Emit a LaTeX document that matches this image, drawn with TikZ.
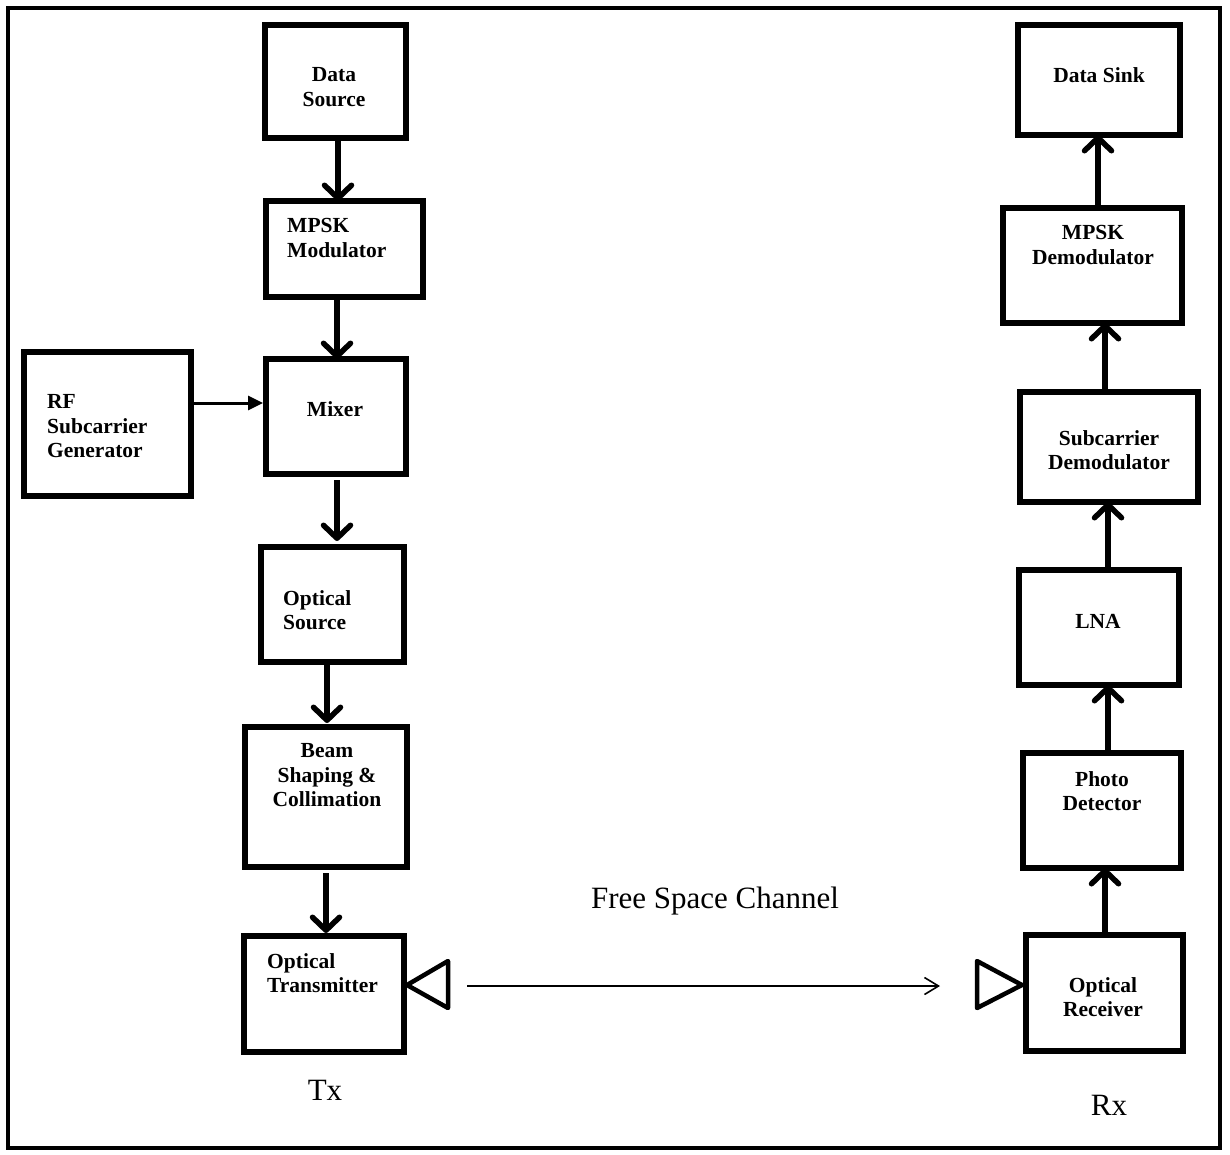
\documentclass[tikz,border=0pt]{standalone}
\usepackage{fontspec}
\setmainfont{Liberation Serif}
\usetikzlibrary{arrows.meta}

% a framed block given by two opposite corners (centre of the stroke)
\newcommand\blockat[5]{%
  \node[blk, minimum width={#4-#2}, minimum height={#5-#3}] (#1) at ({(#2+#4)/2},{(#3+#5)/2}) {};}

\begin{document}
\begin{tikzpicture}[x=1pt, y=-1pt,
  blk/.style={draw, line width=5.5pt, inner sep=0pt, outer sep=0pt},
  lbl/.style={font=\fontsize{21.5}{24.5}\selectfont\bfseries, inner sep=0pt},
  plain/.style={font=\fontsize{31}{36}\selectfont, inner sep=0pt},
  flow/.style={line width=5.5pt, -{Straight Barb[length=13pt, width=27pt, line cap=round, line join=round]}},
  feed/.style={line width=3pt, -{Triangle[length=15pt, width=14pt]}},
  beam/.style={line width=1.6pt, -{Straight Barb[length=14pt, width=17pt]}},
  horn/.style={line width=4.5pt, line join=round}]

\useasboundingbox (0,0) rectangle (1230,1154);
\draw[line width=4pt] (8,8) rectangle (1220,1148);

% transmitter chain
\blockat{ds}{265}{25}{406}{138}
\blockat{mm}{266}{201}{423}{297}
\blockat{mx}{266}{359}{406}{474}
\blockat{rf}{24}{352}{191}{496}
\blockat{os}{261}{547}{404}{662}
\blockat{bs}{245}{727}{407}{867}
\blockat{ot}{244}{936}{404}{1052}

\node[lbl, anchor=north, align=center] (dsT) at (334,67.3) {Data\\Source};
\node[lbl, anchor=north west, align=left] (mmT) at (287,218.3) {MPSK\\Modulator};
\node[lbl, anchor=base] (mxT) at (335,416) {Mixer};
\node[lbl, anchor=north west, align=left] (rfT) at (47,394.3) {RF\\Subcarrier\\Generator};
\node[lbl, anchor=north west, align=left] (osT) at (283,590.3) {Optical\\Source};
\node[lbl, anchor=north, align=center] (bsT) at (327,743.3) {Beam\\Shaping \&\\Collimation};
\node[lbl, anchor=north west, align=left] (otT) at (267,953.3) {Optical\\Transmitter};

\draw[flow] (ds.south -| 338,0) -- (mm.north -| 338,0);
\draw[flow] (mm.south -| 337,0) -- (mx.north -| 337,0);
\draw[flow] ([yshift=-6pt]mx.south -| 337,0) -- ([yshift=6pt]os.north -| 337,0);
\draw[flow] (os.south -| 327,0) -- ([yshift=4pt]bs.north -| 327,0);
\draw[flow] ([yshift=-6pt]bs.south -| 326,0) -- ([yshift=3pt]ot.north -| 326,0);
\draw[feed] (rf.east |- 0,403) -- ([xshift=-3pt]mx.west |- 0,403);

% receiver chain
\blockat{dk}{1018}{25}{1180}{135}
\blockat{md}{1003}{208}{1182}{323}
\blockat{sd}{1020}{392}{1198}{502}
\blockat{ln}{1019}{570}{1179}{685}
\blockat{pd}{1023}{753}{1181}{868}
\blockat{rc}{1026}{935}{1183}{1051}

\node[lbl, anchor=base] (dkT) at (1099,82) {Data Sink};
\node[lbl, anchor=north, align=center] (mdT) at (1093,225.3) {MPSK\\Demodulator};
\node[lbl, anchor=north, align=center] (sdT) at (1109,430.3) {Subcarrier\\Demodulator};
\node[lbl, anchor=base] (lnT) at (1098,628) {LNA};
\node[lbl, anchor=north, align=center] (pdT) at (1102,771.3) {Photo\\Detector};
\node[lbl, anchor=north, align=center] (rcT) at (1103,977.3) {Optical\\Receiver};

\draw[flow] (rc.north -| 1105,0) -- (pd.south -| 1105,0);
\draw[flow] (pd.north -| 1108,0) -- (ln.south -| 1108,0);
\draw[flow] (ln.north -| 1108,0) -- (sd.south -| 1108,0);
\draw[flow] (sd.north -| 1105,0) -- (md.south -| 1105,0);
\draw[flow] (md.north -| 1098,0) -- (dk.south -| 1098,0);

% optical heads and the free-space link
\draw[horn] ([xshift=3pt]ot.east |- 0,985) -- (448,961) -- (448,1008) -- cycle;
\draw[horn] ([xshift=-4pt]rc.west |- 0,985) -- (977,961) -- (977,1008) -- cycle;
\coordinate (txout) at (467,986);
\coordinate (rxin) at (940,986);
\draw[beam] (txout) -- (rxin);

\node[plain, anchor=base] (fsc) at (715,908) {Free Space Channel};
\node[plain, anchor=base] (txL) at (325,1100) {Tx};
\node[plain, anchor=base] (rxL) at (1109,1115) {Rx};
\end{tikzpicture}
\end{document}
